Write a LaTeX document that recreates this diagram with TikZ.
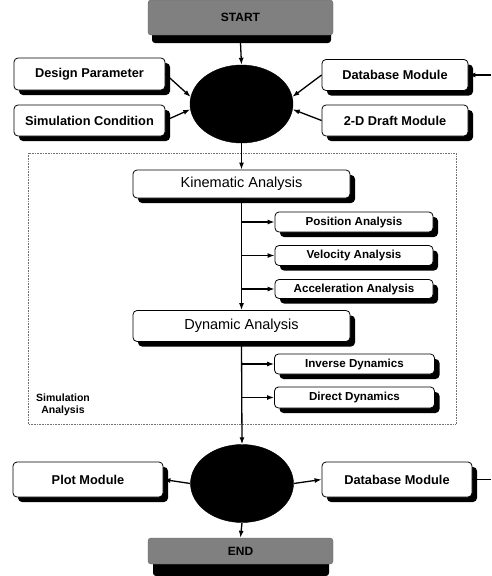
\documentclass[tikz,border=0pt]{standalone}
\usepackage{fontspec}
\setmainfont{Liberation Sans}
\usetikzlibrary{shapes.geometric,shadows,arrows.meta}
\tikzset{
  arr/.style={line width=1.3pt, -{Latex[length=7pt,width=5pt]}},
  ln/.style={line width=1.3pt},
  rbox/.style={draw=black, line width=0.8pt, fill=white, rounded corners=4pt, inner sep=0pt,
    drop shadow={shadow xshift=5pt, shadow yshift=-5pt, fill=black, opacity=1}},
  bigtxt/.style={font=\bfseries\fontsize{12.8}{14}\selectfont},
  midtxt/.style={font=\fontsize{14.5}{16}\selectfont},
  smalltxt/.style={font=\bfseries\fontsize{11.6}{13}\selectfont},
  blob/.style={ellipse, fill=black, draw=black, minimum width=103pt, minimum height=78pt, inner sep=0pt},
  graybox/.style={fill=black!50, draw=black!60, rounded corners=3pt, inner sep=0pt, font=\bfseries\fontsize{12}{14}\selectfont}
}
\begin{document}
\begin{tikzpicture}[x=1pt,y=-1pt]
\useasboundingbox (0,0) rectangle (491,576);
% frame
\draw[black!55, densely dotted, line width=0.6pt] (28,153) rectangle (456,424);
% START
\fill[black, rounded corners=3pt] (152,12) rectangle (331,43);
\node[graybox, minimum width=185pt, minimum height=35pt] (start) at (240.5,17.5) {START};
% END
\fill[black, rounded corners=3pt] (153,548) rectangle (329,576);
\node[graybox, minimum width=185pt, minimum height=26pt] (end) at (240.5,551) {END};
% ellipses
\node[blob] (e1) at (241.5,104) {};
\node[blob] (e2) at (242,483.5) {};
% input boxes
\node[rbox, bigtxt, minimum width=151pt, minimum height=32pt] (dp) at (89.5,74) {Design Parameter};
\node[rbox, bigtxt, minimum width=151pt, minimum height=31pt] (sc) at (89.5,120.5) {Simulation Condition};
\node[rbox, bigtxt, minimum width=146pt, minimum height=31pt] (db1) at (395,75) {Database Module};
\node[rbox, bigtxt, minimum width=146pt, minimum height=31pt] (dr) at (395,120.5) {2-D Draft Module};
% analysis boxes
\node[rbox, midtxt, minimum width=217pt, minimum height=28pt] (kin) at (241.5,184) {Kinematic Analysis};
\node[rbox, smalltxt, minimum width=158pt, minimum height=20pt] (pos) at (354,222) {Position Analysis};
\node[rbox, smalltxt, minimum width=158pt, minimum height=20pt] (vel) at (354,255.5) {Velocity Analysis};
\node[rbox, smalltxt, minimum width=158pt, minimum height=19pt] (acc) at (354,289) {Acceleration Analysis};
\node[rbox, midtxt, minimum width=217pt, minimum height=31pt] (dyn) at (241.5,326) {Dynamic Analysis};
\node[rbox, smalltxt, minimum width=160pt, minimum height=20pt] (inv) at (354.5,364) {Inverse Dynamics};
\node[rbox, smalltxt, minimum width=160pt, minimum height=21pt] (dir) at (354.5,397.5) {Direct Dynamics};
\node[align=center, font=\bfseries\fontsize{10.5}{12.5}\selectfont] (sa) at (63,405) {Simulation\\Analysis};
% output boxes
\node[rbox, bigtxt, minimum width=150pt, minimum height=35pt] (plot) at (88,479.5) {Plot Module};
\node[rbox, bigtxt, minimum width=150pt, minimum height=35pt] (db2) at (397,479.5) {Database Module};
% connectors
\draw[arr] (start.south |- 0,43) -- (e1.north);
\draw[arr] (dp.east) -- (e1.172);
\draw[arr] (sc.east) -- (e1.186);
\draw[arr] (db1.west) -- (e1.8);
\draw[arr] (dr.west) -- (e1.354);
\coordinate (dbin) at (491,75);
\draw[arr] (dbin) -- (db1.east);
\draw[arr] (e1.south) -- (kin.north);
\draw[arr] (kin.south) -- (dyn.north);
\draw[arr] (kin.south |- pos.west) -- (pos.west);
\draw[arr] (kin.south |- vel.west) -- (vel.west);
\draw[arr] (kin.south |- acc.west) -- (acc.west);
\draw[arr] (dyn.south) -- (e2.north);
\draw[arr] (dyn.south |- inv.west) -- (inv.west);
\draw[arr] (dyn.south |- dir.west) -- (dir.west);
\draw[arr] (e2.180) -- (plot.east);
\draw[arr] (e2.0) -- (db2.west);
\coordinate (dbout) at (491,479.5);
\draw[ln] (db2.east) -- (dbout);
\draw[arr] (e2.south) -- (end.north);
\end{tikzpicture}
\end{document}
